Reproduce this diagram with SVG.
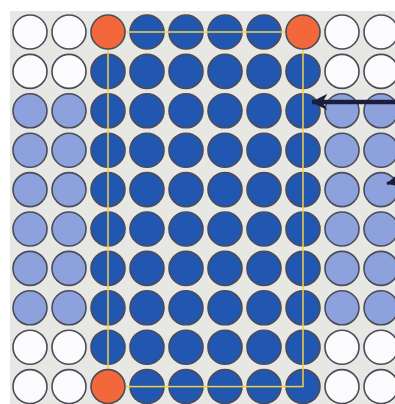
<svg xmlns="http://www.w3.org/2000/svg" width="395" height="404" viewBox="0 0 395 404">
<defs>
<style>
circle{stroke:#4c4c58;stroke-width:1.6}
.w{fill:#fbfbfd}
.l{fill:#8da2dd}
.b{fill:#2157b1}
.o{fill:#f2683b}
.guide{fill:none;stroke:#f2d04e;stroke-width:1.5}
.arr{stroke:#1c1d3c;fill:none}
</style>
<marker id="ah" viewBox="0 0 10 10" refX="9.5" refY="5" markerWidth="3.6" markerHeight="3.6" orient="auto" markerUnits="strokeWidth">
<path d="M0,0 L10,5 L0,10 L3,5 Z" fill="#1c1d3c"/>
</marker>
</defs>
<rect width="395" height="404" fill="#ffffff"/>
<rect x="10" y="11" width="385" height="393" fill="#e7e7e3"/>
<g id="row0">
<circle class="w" cx="30" cy="32" r="17"/><circle class="w" cx="69" cy="32" r="17"/><circle class="b" cx="147" cy="32" r="17"/><circle class="b" cx="186" cy="32" r="17"/><circle class="b" cx="225" cy="32" r="17"/><circle class="b" cx="264" cy="32" r="17"/><circle class="w" cx="342" cy="32" r="17"/><circle class="w" cx="381" cy="32" r="17"/>
</g>
<g id="row1">
<circle class="w" cx="30" cy="71.4" r="17"/><circle class="w" cx="69" cy="71.4" r="17"/><circle class="b" cx="108" cy="71.4" r="17"/><circle class="b" cx="147" cy="71.4" r="17"/><circle class="b" cx="186" cy="71.4" r="17"/><circle class="b" cx="225" cy="71.4" r="17"/><circle class="b" cx="264" cy="71.4" r="17"/><circle class="b" cx="303" cy="71.4" r="17"/><circle class="w" cx="342" cy="71.4" r="17"/><circle class="w" cx="381" cy="71.4" r="17"/>
</g>
<g id="row2">
<circle class="l" cx="30" cy="110.8" r="17"/><circle class="l" cx="69" cy="110.8" r="17"/><circle class="b" cx="108" cy="110.8" r="17"/><circle class="b" cx="147" cy="110.8" r="17"/><circle class="b" cx="186" cy="110.8" r="17"/><circle class="b" cx="225" cy="110.8" r="17"/><circle class="b" cx="264" cy="110.8" r="17"/><circle class="b" cx="303" cy="110.8" r="17"/><circle class="l" cx="342" cy="110.8" r="17"/><circle class="l" cx="381" cy="110.8" r="17"/>
</g>
<g id="row3">
<circle class="l" cx="30" cy="150.2" r="17"/><circle class="l" cx="69" cy="150.2" r="17"/><circle class="b" cx="108" cy="150.2" r="17"/><circle class="b" cx="147" cy="150.2" r="17"/><circle class="b" cx="186" cy="150.2" r="17"/><circle class="b" cx="225" cy="150.2" r="17"/><circle class="b" cx="264" cy="150.2" r="17"/><circle class="b" cx="303" cy="150.2" r="17"/><circle class="l" cx="342" cy="150.2" r="17"/><circle class="l" cx="381" cy="150.2" r="17"/>
</g>
<g id="row4">
<circle class="l" cx="30" cy="189.6" r="17"/><circle class="l" cx="69" cy="189.6" r="17"/><circle class="b" cx="108" cy="189.6" r="17"/><circle class="b" cx="147" cy="189.6" r="17"/><circle class="b" cx="186" cy="189.6" r="17"/><circle class="b" cx="225" cy="189.6" r="17"/><circle class="b" cx="264" cy="189.6" r="17"/><circle class="b" cx="303" cy="189.6" r="17"/><circle class="l" cx="342" cy="189.6" r="17"/><circle class="l" cx="381" cy="189.6" r="17"/>
</g>
<g id="row5">
<circle class="l" cx="30" cy="229" r="17"/><circle class="l" cx="69" cy="229" r="17"/><circle class="b" cx="108" cy="229" r="17"/><circle class="b" cx="147" cy="229" r="17"/><circle class="b" cx="186" cy="229" r="17"/><circle class="b" cx="225" cy="229" r="17"/><circle class="b" cx="264" cy="229" r="17"/><circle class="b" cx="303" cy="229" r="17"/><circle class="l" cx="342" cy="229" r="17"/><circle class="l" cx="381" cy="229" r="17"/>
</g>
<g id="row6">
<circle class="l" cx="30" cy="268.4" r="17"/><circle class="l" cx="69" cy="268.4" r="17"/><circle class="b" cx="108" cy="268.4" r="17"/><circle class="b" cx="147" cy="268.4" r="17"/><circle class="b" cx="186" cy="268.4" r="17"/><circle class="b" cx="225" cy="268.4" r="17"/><circle class="b" cx="264" cy="268.4" r="17"/><circle class="b" cx="303" cy="268.4" r="17"/><circle class="l" cx="342" cy="268.4" r="17"/><circle class="l" cx="381" cy="268.4" r="17"/>
</g>
<g id="row7">
<circle class="l" cx="30" cy="307.8" r="17"/><circle class="l" cx="69" cy="307.8" r="17"/><circle class="b" cx="108" cy="307.8" r="17"/><circle class="b" cx="147" cy="307.8" r="17"/><circle class="b" cx="186" cy="307.8" r="17"/><circle class="b" cx="225" cy="307.8" r="17"/><circle class="b" cx="264" cy="307.8" r="17"/><circle class="b" cx="303" cy="307.8" r="17"/><circle class="l" cx="342" cy="307.8" r="17"/><circle class="l" cx="381" cy="307.8" r="17"/>
</g>
<g id="row8">
<circle class="w" cx="30" cy="347.2" r="17"/><circle class="w" cx="69" cy="347.2" r="17"/><circle class="b" cx="108" cy="347.2" r="17"/><circle class="b" cx="147" cy="347.2" r="17"/><circle class="b" cx="186" cy="347.2" r="17"/><circle class="b" cx="225" cy="347.2" r="17"/><circle class="b" cx="264" cy="347.2" r="17"/><circle class="b" cx="303" cy="347.2" r="17"/><circle class="w" cx="342" cy="347.2" r="17"/><circle class="w" cx="381" cy="347.2" r="17"/>
</g>
<g id="row9">
<circle class="w" cx="30" cy="386.6" r="17"/><circle class="w" cx="69" cy="386.6" r="17"/><circle class="b" cx="147" cy="386.6" r="17"/><circle class="b" cx="186" cy="386.6" r="17"/><circle class="b" cx="225" cy="386.6" r="17"/><circle class="b" cx="264" cy="386.6" r="17"/><circle class="b" cx="303" cy="386.6" r="17"/><circle class="w" cx="342" cy="386.6" r="17"/><circle class="w" cx="381" cy="386.6" r="17"/>
</g>
<g id="selection">
<rect class="guide" x="108" y="32" width="195" height="354.6"/>
</g>
<g id="corners">
<circle class="o" cx="108" cy="32" r="17"/><circle class="o" cx="303" cy="32" r="17"/><circle class="o" cx="108" cy="386.6" r="17"/>
</g>
<g id="connectors">
<line class="arr" x1="400" y1="102" x2="312" y2="102" stroke-width="4.5" marker-end="url(#ah)"/>
<line class="arr" x1="405" y1="179" x2="387" y2="183.5" stroke-width="3" marker-end="url(#ah)"/>
</g>
</svg>
